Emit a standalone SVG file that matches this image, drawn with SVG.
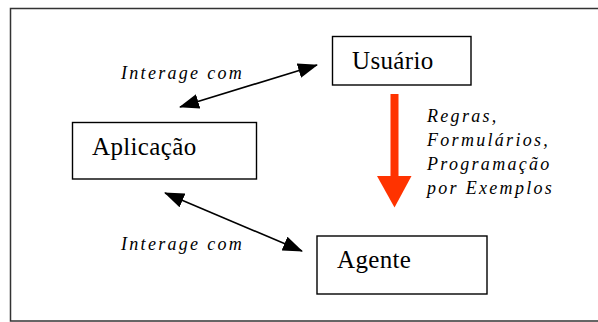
<svg xmlns="http://www.w3.org/2000/svg" width="598" height="322" viewBox="0 0 598 322">
<style>
.box{fill:#fff;stroke:#000;stroke-width:1.4}
.name{font-family:"Liberation Serif","Times New Roman",serif;font-size:25px;letter-spacing:0.35px;fill:#000}
.lbl{font-family:"Liberation Serif","Times New Roman",serif;font-size:18px;font-style:italic;letter-spacing:2.3px;fill:#000}
.conn{stroke:#000;stroke-width:1.6;fill:none;marker-start:url(#ah);marker-end:url(#ah)}
</style>
<defs>
<marker id="ah" viewBox="0 0 20 15" refX="19" refY="7.5" markerWidth="20" markerHeight="15" markerUnits="userSpaceOnUse" orient="auto-start-reverse">
<path d="M0,0 L20,7.5 L0,15 z" fill="#000"/>
</marker>
</defs>
<rect x="0" y="0" width="598" height="322" fill="#fff"/>
<rect id="frame" x="10.5" y="8.5" width="600" height="312.5" fill="none" stroke="#333" stroke-width="1.5"/>
<g id="connectors">
<line class="conn" x1="180" y1="107" x2="317" y2="65"/>
<line class="conn" x1="165" y1="193" x2="302" y2="251"/>
<g id="red-arrow">
<rect x="390.5" y="94" width="8" height="83" fill="#FF3300"/>
<polygon points="377,176 411.5,176 394.5,207.5" fill="#FF3300"/>
</g>
</g>
<g id="usuario">
<rect class="box" x="332.5" y="36.5" width="138.5" height="48.5"/>
<text class="name" x="352" y="69">Usuário</text>
</g>
<g id="aplicacao">
<rect class="box" x="72.5" y="122.5" width="184" height="56.5"/>
<text class="name" x="92" y="154.5">Aplicação</text>
</g>
<g id="agente">
<rect class="box" x="317" y="236" width="170" height="58"/>
<text class="name" x="337" y="268">Agente</text>
</g>
<g id="labels">
<text class="lbl" x="121" y="79">Interage com</text>
<text class="lbl" x="121" y="250">Interage com</text>
<text class="lbl" x="427" y="121.5">Regras,</text>
<text class="lbl" x="427" y="145.5">Formulários,</text>
<text class="lbl" x="427" y="170">Programação</text>
<text class="lbl" x="427" y="194">por Exemplos</text>
</g>
</svg>
